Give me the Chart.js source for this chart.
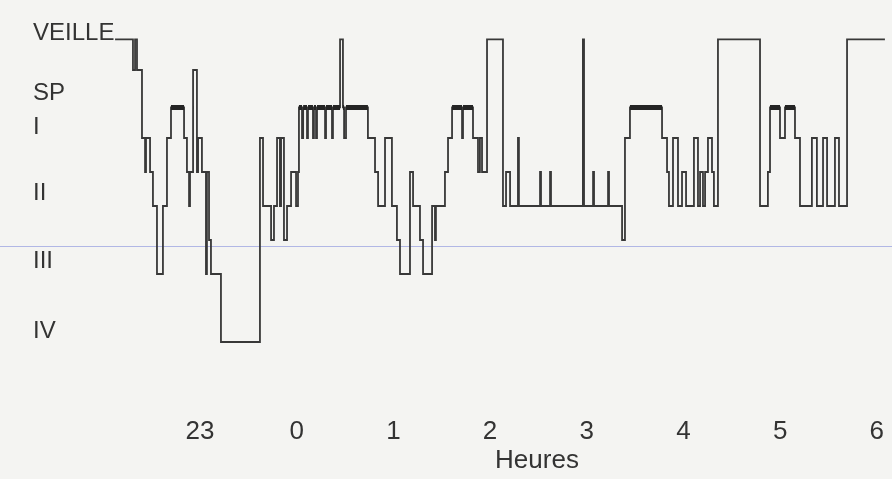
<!DOCTYPE html>
<html>
<head>
<meta charset="utf-8">
<script src="https://cdn.jsdelivr.net/npm/chart.js@4/dist/chart.umd.min.js"></script>
<style>
  html, body { margin: 0; padding: 0; background: #f4f4f2; }
  #wrap { width: 892px; height: 479px; }
</style>
</head>
<body>
<div id="wrap"><canvas id="hypno"></canvas></div>
<script>
// Hypnogramme : minutes depuis 22:00 et stade atteint à cet instant
const minutes = [
  7.3, 18.4, 19.7, 20.9, 24.0, 25.9, 26.5, 29.0, 30.8, 33.3, 37.0, 39.5, 42.0,
  50.1, 51.9, 53.2, 53.8, 55.7, 58.1, 58.8, 61.2, 63.7, 64.3, 65.6, 66.8, 73.0,
  97.2, 99.1, 104.1, 105.9, 107.8, 109.6, 110.3, 112.1, 114.0, 116.5, 119.6, 120.8,
  121.4, 123.3, 124.0, 126.4, 127.0, 130.1, 130.7, 132.0, 132.6, 137.6, 138.2,
  141.9, 142.5, 146.9, 148.7, 149.4, 150.6, 164.2, 168.6, 170.5, 174.8, 179.1,
  182.2, 184.1, 190.3, 192.2, 196.5, 198.4, 204.0, 205.8, 206.4, 212.0, 213.9,
  216.4, 222.6, 223.2, 229.4, 232.5, 233.7, 235.0, 238.1, 248.0, 249.9, 252.4,
  257.3, 257.9, 271.0, 271.6, 277.2, 277.8, 297.6, 298.3, 303.9, 304.5, 313.2,
  313.8, 321.9, 323.7, 326.8, 346.7, 349.8, 351.0, 353.5, 356.6, 359.1, 361.6,
  366.5, 369.0, 370.3, 372.1, 373.4, 375.2, 377.7, 378.9, 381.4, 407.5, 412.4,
  413.7, 419.9, 423.0, 429.2, 432.3, 439.7, 442.8, 446.6, 449.1, 454.0, 456.5,
  461.5, 485.0
];
const stages = [
  "VEILLE", "MT", "VEILLE", "MT", "I", "I-II", "I", "I-II", "II", "III", "II", "I", "SP",
  "I", "I-II", "II", "I-II", "MT", "I-II", "I", "I-II", "III", "I-II", "II-III", "III", "IV",
  "I", "II", "II-III", "II", "I", "II", "I", "II-III", "II", "I-II", "II", "I-II",
  "SP", "I", "SP", "I", "SP", "I", "SP", "I", "SP", "I", "SP",
  "I", "SP", "VEILLE", "SP", "I", "SP", "I", "I-II", "II", "I", "II",
  "II-III", "III", "I-II", "II", "II-III", "III", "II", "II-III", "II", "I-II", "I",
  "SP", "I", "SP", "I", "I-II", "I", "I-II", "VEILLE", "II", "I-II", "II",
  "I", "II", "I-II", "II", "I-II", "II", "VEILLE", "II", "I-II", "II", "I-II",
  "II", "II-III", "I", "SP", "I", "I-II", "II", "I", "II", "I-II", "II",
  "I", "II", "I-II", "II", "I-II", "I", "I-II", "II", "VEILLE", "II", "I-II",
  "SP", "I", "SP", "I", "II", "I", "II", "I", "II", "I", "II",
  "VEILLE", "VEILLE"
];

// niveau de chaque stade sur l'axe vertical
const stageNames = ["IV", "III", "II-III", "II", "I-II", "I", "SP", "MT", "VEILLE"];
const stageLevels = [0, 1, 1.5, 2, 2.5, 3, 3.45, 4, 4.45];

// étiquettes de l'axe vertical
const yTickLabels = ["IV", "III", "", "II", "I", "SP", "VEILLE"];
const yTickValues = [0.15, 1.18, 1.41, 2.18, 3.15, 3.65, 4.54];
const blueLineValue = 1.41;

// graduations horaires (minutes depuis 22:00)
const hourTicks = [60, 120, 180, 240, 300, 360, 420, 480];
const xMin = 48.83;
const xMax = 489.4;

const FONT = "'Liberation Sans', Arial, sans-serif";

function levelOf(name) {
  return stageLevels[stageNames.indexOf(name)];
}

const trace = minutes.map((m, i) => ({ x: m, y: levelOf(stages[i]) }));

// traits épais du sommeil paradoxal
const spBars = [];
for (let i = 0; i < minutes.length - 1; i++) {
  if (stages[i] === "SP") {
    spBars.push({ x: minutes[i], y: levelOf("SP") });
    spBars.push({ x: minutes[i + 1], y: levelOf("SP") });
    spBars.push({ x: minutes[i + 1], y: null });
  }
}

const ctx = document.getElementById("hypno").getContext("2d");

new Chart(ctx, {
  type: "line",
  data: {
    datasets: [
      {
        data: trace,
        stepped: true,
        borderColor: "#383838",
        borderWidth: 1.8,
        pointRadius: 0,
        clip: false,
        order: 2,
      },
      {
        data: spBars,
        borderColor: "#242424",
        borderWidth: 5,
        borderCapStyle: "butt",
        pointRadius: 0,
        spanGaps: false,
        clip: false,
        order: 1,
      },
    ],
  },
  options: {
    animation: false,
    responsive: true,
    maintainAspectRatio: false,
    layout: { padding: { left: 33, top: 0, right: 0, bottom: 0 } },
    plugins: {
      legend: { display: false },
      tooltip: { enabled: false },
    },
    scales: {
      x: {
        type: "linear",
        bounds: "data",
        afterFit: (s) => {
          s.height = 66;
          s.paddingLeft = 0;
          s.paddingRight = 0;
        },
        afterBuildTicks: (s) => {
          // bornes posées ici pour que le début du tracé (avant 23 h) reste dessiné
          s.min = xMin;
          s.max = xMax;
          s.ticks = hourTicks.map((v) => ({ value: v }));
        },
        grid: { display: false },
        border: { display: false },
        ticks: {
          padding: -2,
          color: "#333",
          font: { family: FONT, size: 26, lineHeight: 1 },
          callback: (v) => String((22 + v / 60) % 24),
        },
        title: {
          display: true,
          text: "Heures",
          color: "#333",
          font: { family: FONT, size: 26, lineHeight: 1 },
          padding: { top: 0, bottom: 5 },
        },
      },
      y: {
        min: -1.044,
        max: 5.029,
        afterFit: (s) => {
          s.width = 149;
          s.paddingTop = 0;
          s.paddingBottom = 0;
        },
        afterBuildTicks: (s) => {
          s.ticks = yTickValues.map((v) => ({ value: v }));
        },
        grid: {
          drawTicks: true,
          tickLength: 182,
          lineWidth: 1,
          color: (c) =>
            c.tick && c.tick.value === blueLineValue
              ? "rgba(160, 168, 225, 0.8)"
              : "rgba(0,0,0,0)",
        },
        border: { display: false },
        ticks: {
          crossAlign: "far",
          color: "#333",
          font: { family: FONT, size: 24, lineHeight: 1 },
          callback: (v, i) => yTickLabels[i],
        },
      },
    },
  },
});
</script>
</body>
</html>
